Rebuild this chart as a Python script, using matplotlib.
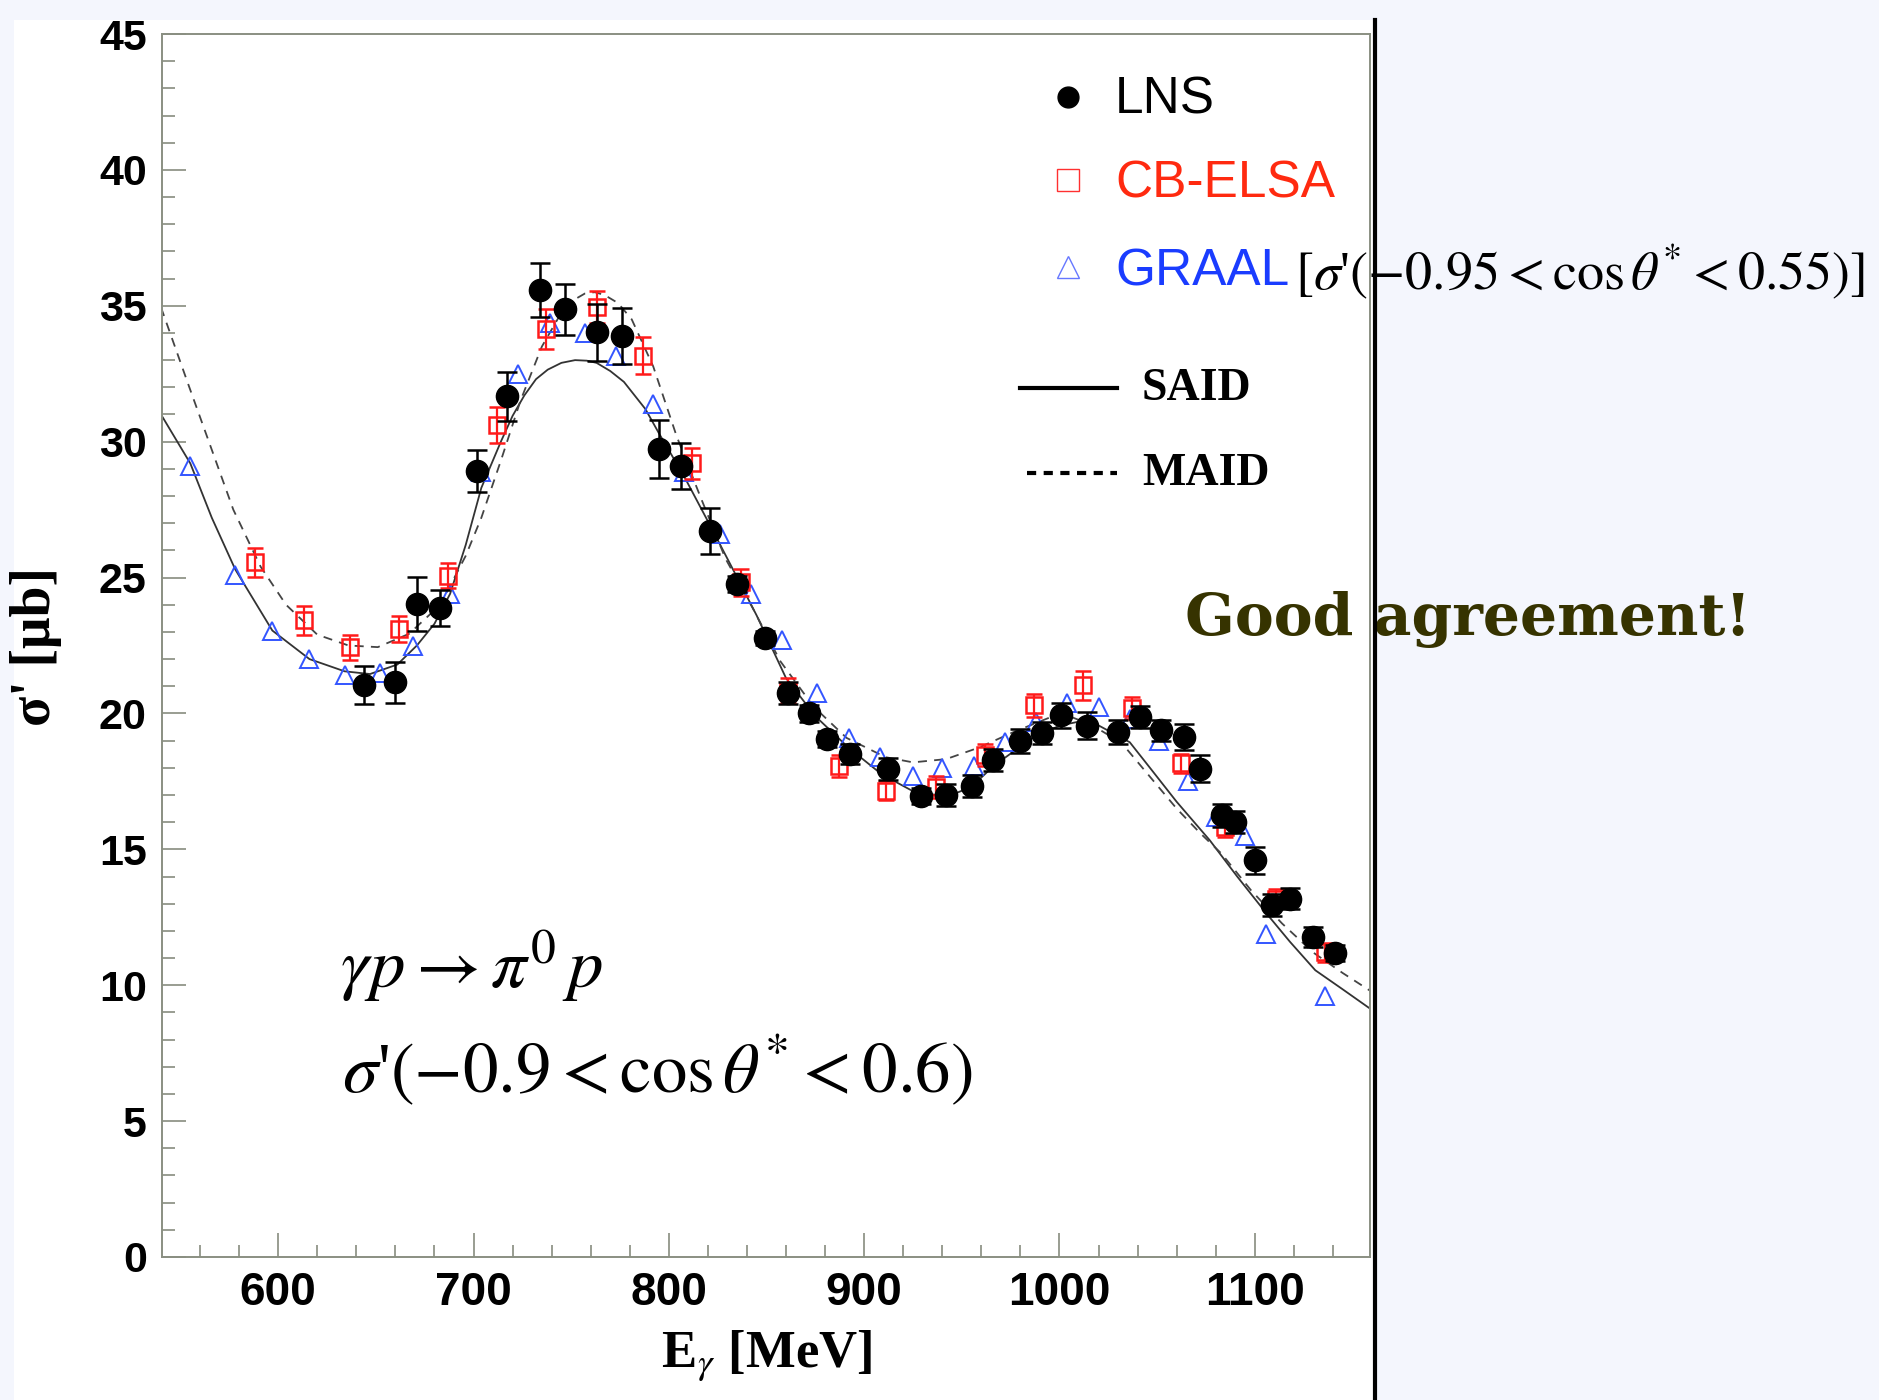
"""pi0 photoproduction cross section slide: LNS vs CB-ELSA / GRAAL, SAID and MAID curves."""
import matplotlib
matplotlib.use("Agg")
import matplotlib.pyplot as plt
from matplotlib.lines import Line2D
from matplotlib.patches import Rectangle

W, H = 1879, 1400
plt.rcParams.update({"mathtext.fontset": "stix", "font.family": "Liberation Sans"})

# LNS data (filled circles)
lns_e = [644, 660, 671, 683, 702, 717, 734, 747, 763, 776, 795, 806, 821, 835, 849,
         861, 872, 881, 893, 912, 929, 942, 955, 966, 980, 991, 1001, 1014, 1030, 1041,
         1052, 1064, 1072, 1083, 1090, 1100, 1109, 1118, 1130, 1141]
lns_s = [21.05, 21.15, 24.03, 23.88, 28.91, 31.67, 35.58, 34.87, 34.02, 33.9, 29.74, 29.1,
         26.7, 24.76, 22.77, 20.75, 20.0, 19.06, 18.52, 17.96, 16.97, 17.0, 17.32, 18.3,
         18.98, 19.28, 19.93, 19.55, 19.31, 19.86, 19.38, 19.15, 17.97, 16.25, 16.0, 14.6,
         12.94, 13.19, 11.78, 11.19]
lns_err = [0.7, 0.75, 1.0, 0.66, 0.78, 0.9, 1.0, 0.93, 1.04, 1.03, 1.07, 0.86, 0.85, 0.3,
           0.25, 0.4, 0.3, 0.3, 0.37, 0.4, 0.3, 0.4, 0.41, 0.4, 0.43, 0.4, 0.45, 0.5, 0.45,
           0.4, 0.38, 0.48, 0.49, 0.43, 0.4, 0.5, 0.4, 0.4, 0.37, 0.3]

# CB-ELSA (open squares)
elsa_e = [588, 613, 637, 662, 687, 712, 737, 763, 787, 812, 837, 861, 887, 911, 937, 962,
          987, 1012, 1037, 1062, 1085, 1111, 1136]
elsa_s = [25.56, 23.42, 22.44, 23.1, 25.07, 30.62, 34.14, 34.96, 33.17, 29.2, 24.83, 20.84,
          18.07, 17.16, 17.29, 18.46, 20.3, 21.03, 20.21, 18.17, 15.82, 13.19, 11.22]
elsa_err = [0.54, 0.55, 0.46, 0.47, 0.47, 0.67, 0.74, 0.6, 0.67, 0.57, 0.5, 0.45, 0.4,
            0.35, 0.4, 0.4, 0.43, 0.53, 0.4, 0.35, 0.35, 0.35, 0.35]

# GRAAL (open triangles)
graal_e = [555, 578, 597, 616, 634, 652, 669, 688, 704, 723, 739, 757, 773, 792, 808, 826,
           842, 858, 876, 892, 908, 925, 940, 956, 972, 988, 1004, 1020, 1036, 1051, 1066,
           1080, 1095, 1106, 1136]
graal_s = [29.1, 25.1, 23.05, 22.0, 21.4, 21.5, 22.5, 24.4, 28.9, 32.5, 34.35, 34.0, 33.15,
           31.4, 28.9, 26.6, 24.4, 22.7, 20.75, 19.1, 18.4, 17.7, 18.0, 18.05, 18.95, 19.7,
           20.4, 20.25, 19.8, 19.0, 17.5, 16.2, 15.5, 11.9, 9.6]

# model curves
said_e = [540, 555, 566, 578, 597, 616, 634, 647, 661, 671, 680, 688, 696, 704, 714, 720,
          726, 732, 738, 745, 752, 758, 763, 770, 777, 788, 795, 808, 822, 835, 845, 860,
          875, 892, 909, 926, 943, 955, 966, 986, 1000, 1010, 1020, 1036, 1046, 1060, 1077,
          1091, 1106, 1118, 1131, 1145, 1159]
said_s = [31.0, 29.2, 27.2, 25.3, 23.05, 22.0, 21.55, 21.45, 21.8, 22.5, 23.3, 24.4, 26.2,
          28.3, 30.0, 30.95, 31.7, 32.3, 32.65, 32.9, 33.0, 32.98, 32.9, 32.6, 32.2, 31.2,
          30.3, 28.7, 26.8, 25.0, 23.6, 21.3, 19.9, 18.74, 17.76, 17.1, 16.95, 17.3, 18.05,
          19.1, 19.55, 19.7, 19.56, 18.94, 18.03, 16.75, 15.33, 14.0, 12.64, 11.6, 10.55,
          9.85, 9.14]
maid_e = [540, 554, 566, 577, 591, 604, 620, 636, 651, 667, 683, 696, 704, 714, 724, 735,
          745, 751, 757, 762, 767, 774, 781, 792, 804, 816, 829, 843, 857, 874, 891, 911,
          925, 942, 959, 976, 995, 1005, 1017, 1032, 1046, 1060, 1072, 1083, 1098, 1114,
          1130, 1145, 1159]
maid_s = [34.94, 32.1, 29.7, 27.5, 25.4, 24.0, 22.9, 22.5, 22.44, 22.93, 24.0, 25.8, 27.2,
          29.3, 31.5, 33.5, 34.75, 35.2, 35.45, 35.5, 35.4, 35.1, 34.5, 32.77, 30.2, 28.0,
          25.7, 23.87, 21.93, 20.26, 19.1, 18.39, 18.2, 18.32, 18.75, 19.3, 19.85, 19.9,
          19.56, 18.9, 17.7, 16.5, 15.6, 14.84, 13.5, 12.27, 11.2, 10.45, 9.8]


def fx(px):
    return px / W


def fy(py):
    return 1 - py / H


fig = plt.figure(figsize=(W / 100, H / 100), dpi=100, facecolor="#f4f6fd")
# white slide panel
fig.add_artist(Rectangle((fx(14), 0), fx(1374) - fx(14), fy(20), transform=fig.transFigure,
                         facecolor="white", edgecolor="none", zorder=0))

ax = fig.add_axes([fx(162), fy(1257), fx(1370) - fx(162), fy(34) - fy(1257)])
ax.set_facecolor("white")

ax.plot(said_e, said_s, color="#333333", lw=1.3, zorder=2)
ax.plot(maid_e, maid_s, color="#444444", lw=1.3, ls=(0, (5, 4)), zorder=2)

ax.plot(graal_e, graal_s, ls="none", marker="^", ms=13, mfc="none", mec="#3355ff",
        mew=1.4, zorder=3)
ax.errorbar(elsa_e, elsa_s, yerr=elsa_err, fmt="s", ms=12, mfc="none", mec="#ff1a1a",
            mew=1.8, ecolor="#ff1a1a", elinewidth=1.6, capsize=5.5, capthick=1.6, zorder=4)
ax.errorbar(lns_e, lns_s, yerr=lns_err, fmt="o", ms=16, color="black",
            elinewidth=1.8, capsize=7.5, capthick=1.8, zorder=5)

ax.set_xlim(540.5, 1159)
ax.set_ylim(0, 45)
ax.set_xticks(range(600, 1101, 100))
ax.set_xticks(range(560, 1160, 20), minor=True)
ax.set_yticks(range(0, 46, 5))
ax.set_yticks(range(0, 46), minor=True)
for sp in ax.spines.values():
    sp.set_color("#8a8f82")
    sp.set_linewidth(1.4)
ax.tick_params(which="both", direction="in", top=False, right=False, color="#7d8274",
               width=1.1)
ax.tick_params(which="major", length=17, pad=11)
ax.tick_params(which="minor", length=9)
ax.tick_params(axis="x", labelsize=33, pad=10)
ax.tick_params(axis="y", labelsize=31)
for lab in ax.get_xticklabels() + ax.get_yticklabels():
    lab.set_fontweight("bold")

fig.text(fx(767), fy(1356), r"E$_{\gamma}$ [MeV]", family="Liberation Serif",
         fontweight="bold", fontsize=38, ha="center", va="center")
fig.text(fx(36), fy(646), "σ' [μb]", family="Liberation Serif", fontweight="bold",
         fontsize=40, rotation=90, ha="center", va="center")

# legend, drawn by hand like the ROOT original
leg = [("LNS", "o", "black", "black", 97, 114),
       ("CB-ELSA", "s", "none", "#ff3030", 180, 198),
       ("GRAAL", "^", "none", "#6677ff", 267, 285)]
txtcol = {"LNS": "black", "CB-ELSA": "#ff2a10", "GRAAL": "#1a3cff"}
for name, mk, fc, ec, my, by in leg:
    fig.add_artist(Line2D([fx(1068)], [fy(my)], marker=mk, ms=15 if mk == "o" else 16,
                          mfc=fc, mec=ec, mew=1.0, ls="none", transform=fig.transFigure))
    fig.text(fx(1115), fy(by), name, fontsize=37, color=txtcol[name], va="baseline")
fig.text(fx(1295), fy(290), r"$[\sigma$'$(-0.95 < \cos\theta^{*} < 0.55)]$", fontsize=39,
         family="Liberation Serif", va="baseline")

fig.add_artist(Line2D([fx(1020), fx(1117)], [fy(388), fy(388)], color="black", lw=3,
                      transform=fig.transFigure))
fig.add_artist(Line2D([fx(1027), fx(1117)], [fy(473), fy(473)], color="black", lw=3,
                      ls=(0, (2.2, 1.8)), transform=fig.transFigure))
fig.text(fx(1142), fy(400), "SAID", family="Liberation Serif", fontweight="bold",
         fontsize=33, va="baseline")
fig.text(fx(1142), fy(485), "MAID", family="Liberation Serif", fontweight="bold",
         fontsize=33, va="baseline")

fig.text(fx(340), fy(988), r"$\gamma p \rightarrow \pi^{0}\, p$", fontsize=51, va="baseline")
fig.text(fx(342), fy(1092), r"$\sigma$'$(-0.9 < \cos\theta^{*} < 0.6)$", fontsize=51,
         family="Liberation Serif", va="baseline")

fig.text(fx(1185), fy(635), "Good agreement!", family="DejaVu Serif", fontweight="bold",
         fontsize=42, color="#363300", va="baseline")

# slide divider line
fig.add_artist(Line2D([fx(1375), fx(1375)], [fy(20), 0], color="black", lw=3,
                      transform=fig.transFigure, zorder=10))

fig.savefig("out.png", dpi=100, facecolor=fig.get_facecolor())
